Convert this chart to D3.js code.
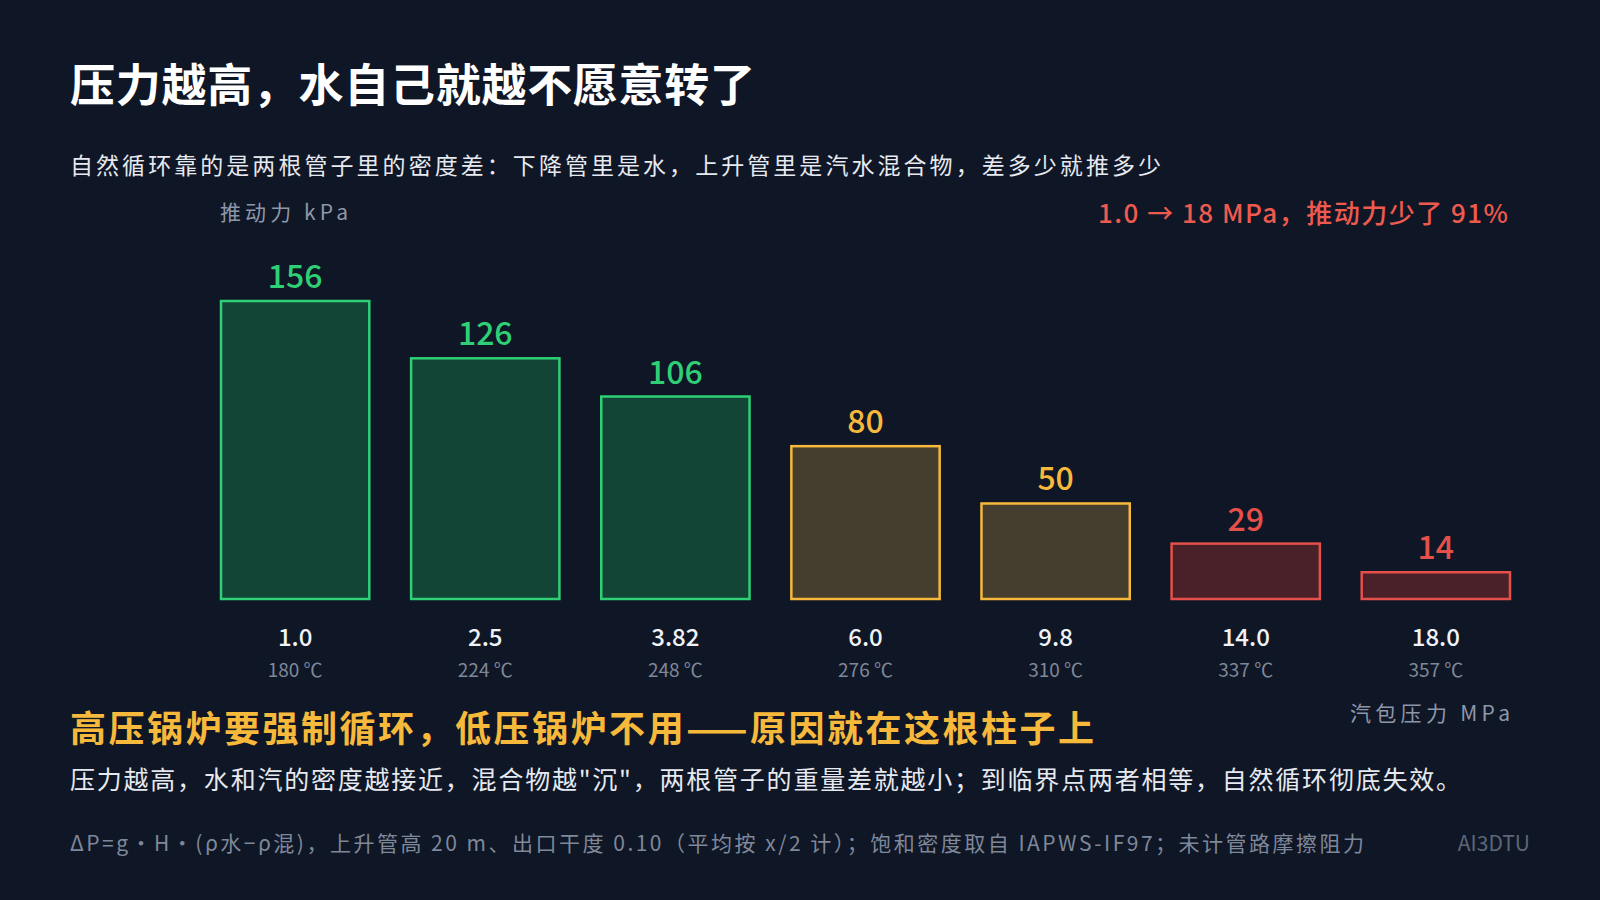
<!DOCTYPE html>
<html><head><meta charset="utf-8">
<script src="https://cdn.jsdelivr.net/npm/d3@7"></script>
<style>
body{margin:0;background:#0f1626;}
text{font-family:"Noto Sans CJK SC","Noto Sans",sans-serif;}
</style></head>
<body>
<svg id="chart" width="1600" height="900"></svg>
<script>
// pressure (MPa), saturation temperature and driving head (kPa)
var pressures = ["1.0","2.5","3.82","6.0","9.8","14.0","18.0"];
var temps = ["180 ℃","224 ℃","248 ℃","276 ℃","310 ℃","337 ℃","357 ℃"];
var drive = [156,126,106,80,50,29,14];
var level = ["g","g","g","o","o","r","r"];

var colors = {
  g:{stroke:"#2fcf76", fill:"#134537"},
  o:{stroke:"#f6b93b", fill:"#453d2d"},
  r:{stroke:"#e5504a", fill:"#4a2029"}
};

var svg = d3.select("#chart");
svg.append("rect").attr("width",1600).attr("height",900).attr("fill","#0f1626");

var x = d3.scaleBand().domain(pressures).range([221,1510]).paddingInner(0.22).paddingOuter(0);
var y = d3.scaleLinear().domain([0,156]).range([599,301]);

// helper: text stretched to the reference width
function label(px,py,size,color,str,len,anchor,weight){
  var t = svg.append("text").attr("x",px).attr("y",py).attr("fill",color)
    .attr("font-size",size).attr("font-weight",weight||400)
    .attr("text-anchor",anchor||"start").text(str);
  if(len) t.attr("textLength",len).attr("lengthAdjust","spacing");
  return t;
}

label(70,102,45,"#ffffff","压力越高，水自己就越不愿意转了",685,"start",700);
label(70,174,23,"#e6e9ef","自然循环靠的是两根管子里的密度差：下降管里是水，上升管里是汽水混合物，差多少就推多少",1091);
label(220,220,21,"#8e97a8","推动力  kPa",128);
label(1508,223,26,"#ee5a4e","1.0 → 18 MPa，推动力少了 91%",410,"end",500);

var g = svg.append("g");
g.selectAll("rect.bar").data(drive).join("rect").attr("class","bar")
  .attr("x",function(d,i){return x(pressures[i]);})
  .attr("y",function(d){return y(d);})
  .attr("width",x.bandwidth())
  .attr("height",function(d){return y(0)-y(d);})
  .attr("fill",function(d,i){return colors[level[i]].fill;})
  .attr("stroke",function(d,i){return colors[level[i]].stroke;})
  .attr("stroke-width",2.5);

g.selectAll("text.val").data(drive).join("text").attr("class","val")
  .attr("x",function(d,i){return x(pressures[i])+x.bandwidth()/2;})
  .attr("y",function(d){return y(d)-13;})
  .attr("text-anchor","middle").attr("font-size",32).attr("font-weight",500)
  .attr("fill",function(d,i){return colors[level[i]].stroke;})
  .text(function(d){return d;});

g.selectAll("text.p").data(pressures).join("text").attr("class","p")
  .attr("x",function(d){return x(d)+x.bandwidth()/2;}).attr("y",646)
  .attr("text-anchor","middle").attr("font-size",24).attr("font-weight",500).attr("fill","#f0f2f5").text(function(d){return d;});
g.selectAll("text.t").data(temps).join("text").attr("class","t")
  .attr("x",function(d,i){return x(pressures[i])+x.bandwidth()/2;}).attr("y",677)
  .attr("text-anchor","middle").attr("font-size",19).attr("fill","#7f8899").text(function(d){return d;});

label(1510,721,21,"#8e97a8","汽包压力  MPa",160,"end");
label(70,742,36,"#f6b93b","高压锅炉要强制循环，低压锅炉不用——原因就在这根柱子上",1024,"start",700);
label(70,789,25,"#e6e9ef","压力越高，水和汽的密度越接近，混合物越\"沉\"，两根管子的重量差就越小；到临界点两者相等，自然循环彻底失效。",1391);
label(70,851,21,"#7f8899","ΔP=g·H·(ρ水−ρ混)，上升管高 20 m、出口干度 0.10（平均按 x/2 计）；饱和密度取自 IAPWS-IF97；未计管路摩擦阻力",1294);
label(1530,851,21,"#5d6677","AI3DTU",0,"end");
</script>
</body></html>
